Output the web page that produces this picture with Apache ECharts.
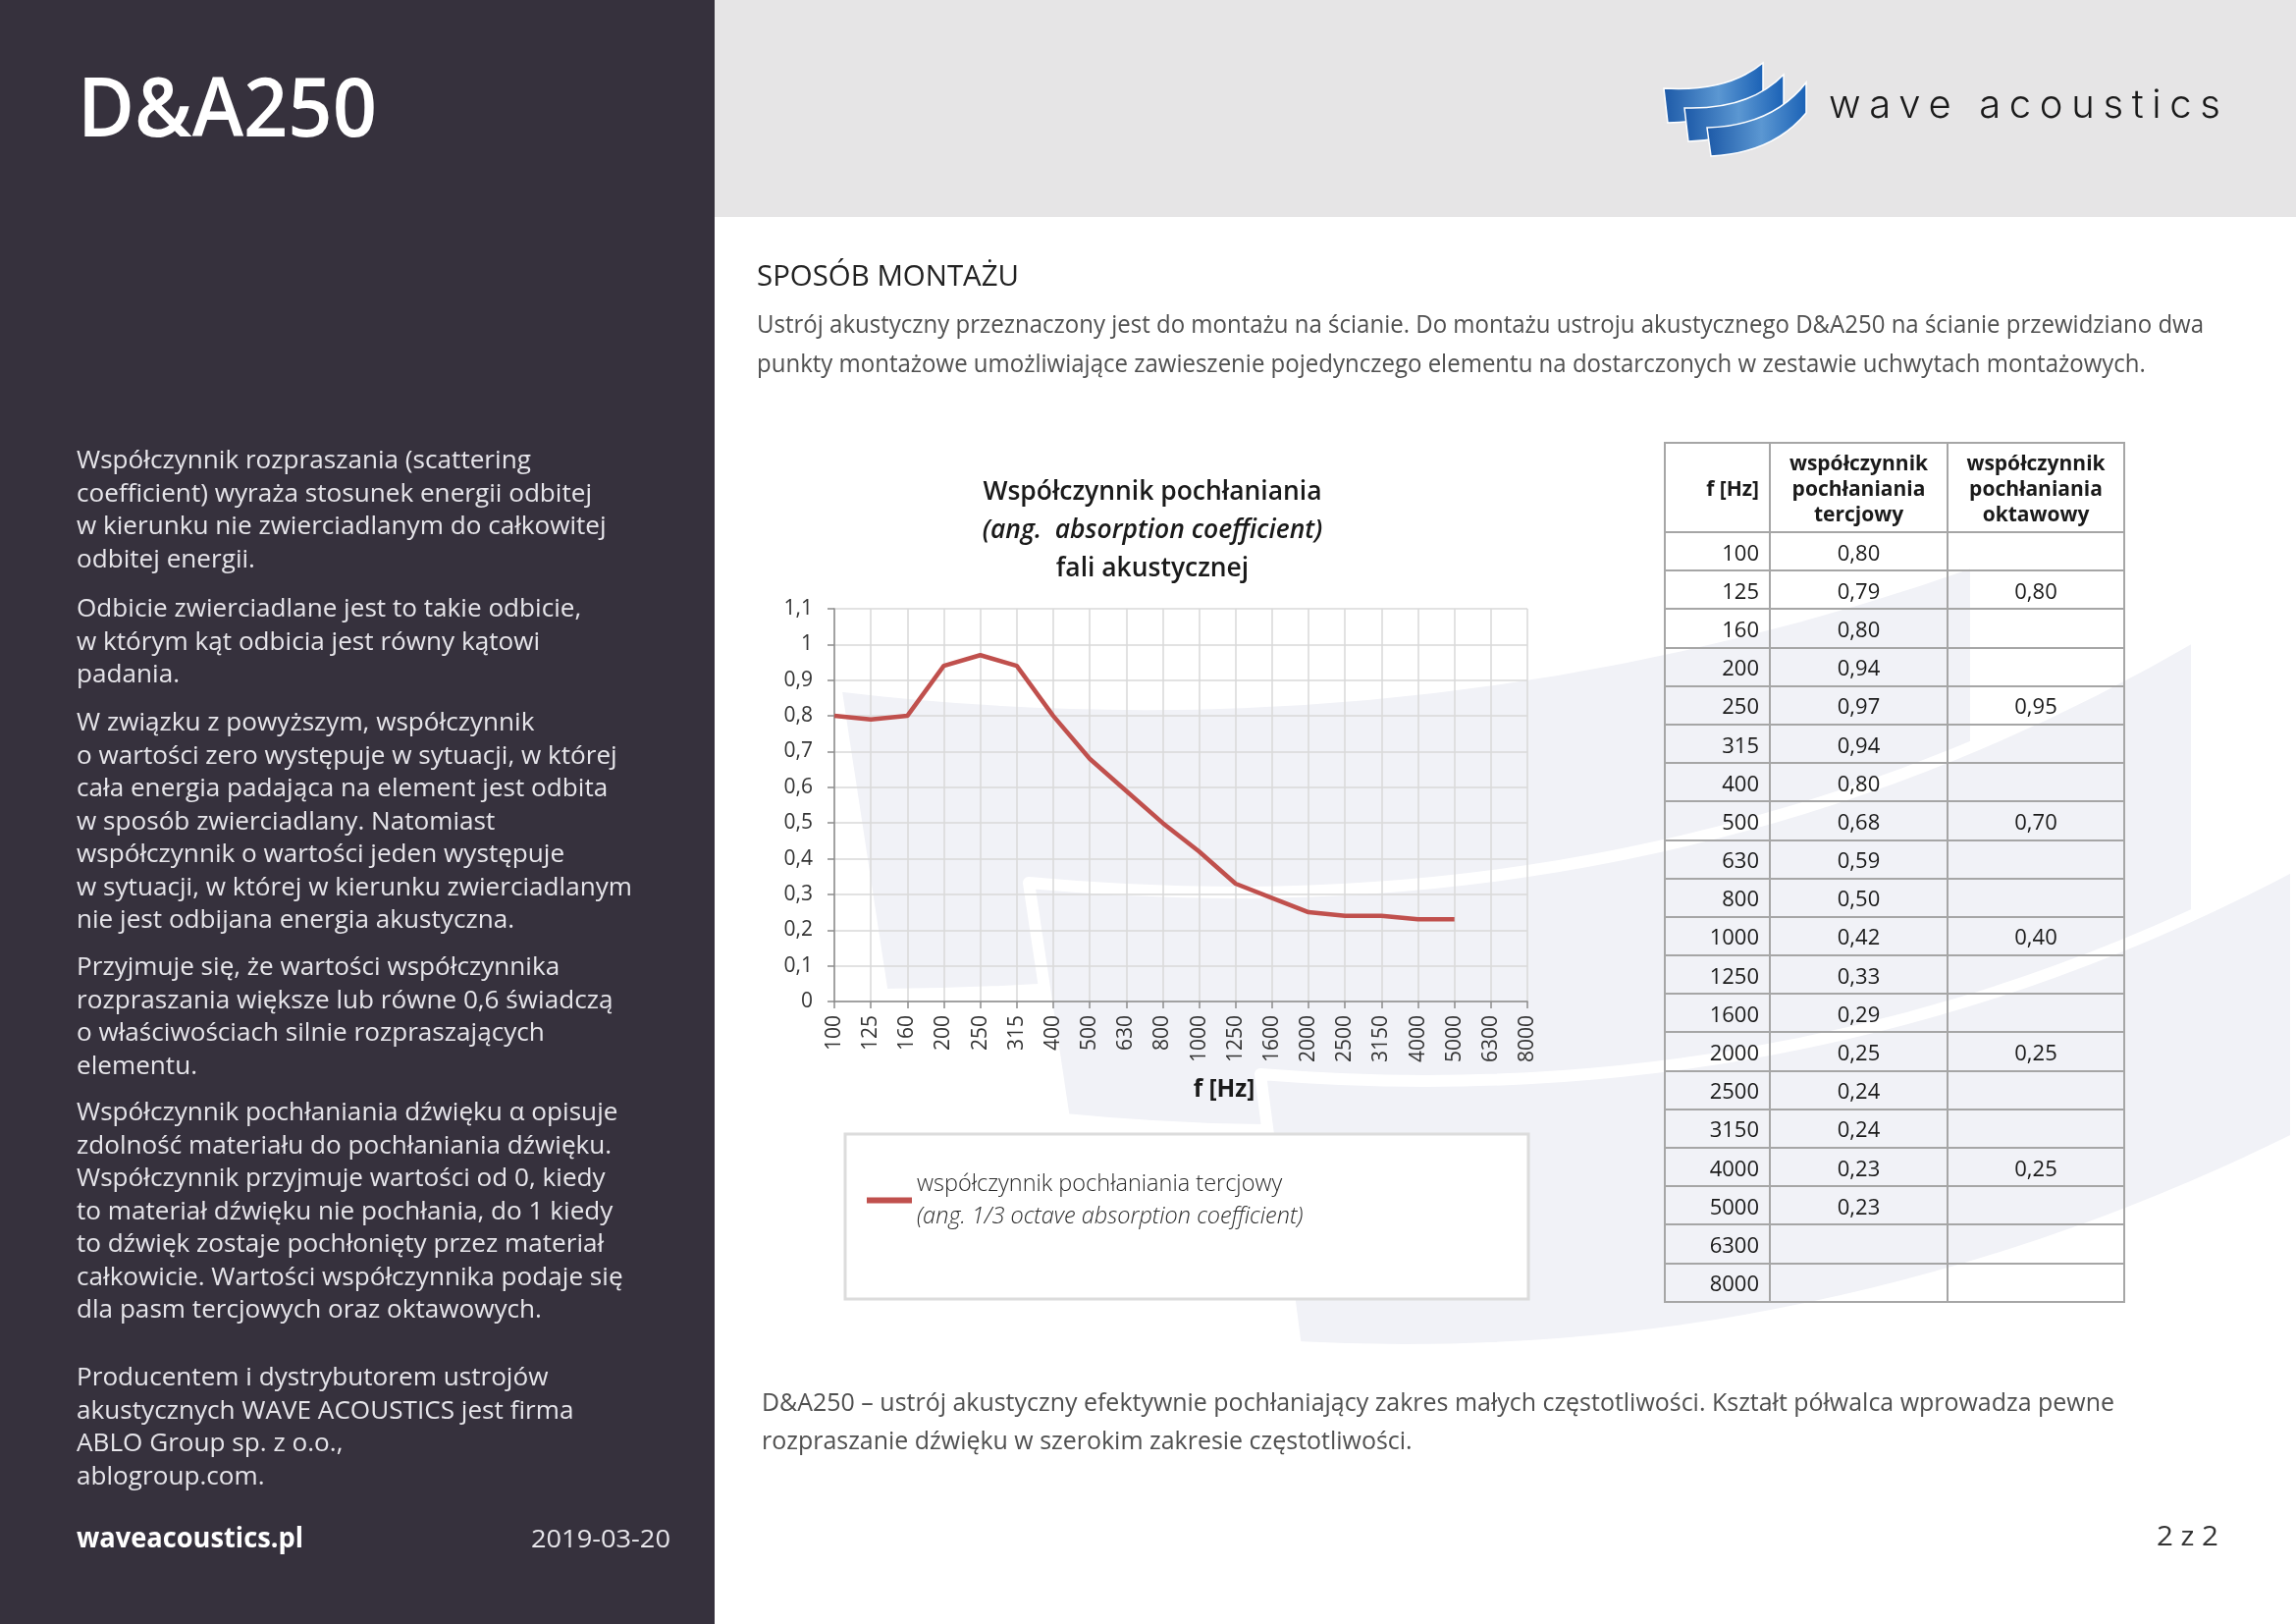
<!DOCTYPE html>
<html>
<head>
<meta charset="utf-8">
<script src="https://cdn.jsdelivr.net/npm/echarts@6/dist/echarts.min.js"></script>
<style>
html,body{margin:0;padding:0;}
body{width:2339px;height:1654px;position:relative;overflow:hidden;background:#fff;font-family:'Open Sans',sans-serif;}
#leftPanel{position:absolute;left:0;top:0;width:728px;height:1654px;background:#36313d;}
#header{position:absolute;left:728px;top:0;width:1611px;height:221px;background:#e6e5e6;}
#wm{position:absolute;left:0;top:0;z-index:0;}
#chart{position:absolute;left:0;top:0;width:2339px;height:1654px;z-index:1;}
.t{position:absolute;white-space:nowrap;transform-origin:0 50%;z-index:2;}
.ln{white-space:nowrap;}
#tbl{position:absolute;left:1695px;top:450px;z-index:2;border-collapse:collapse;table-layout:fixed;width:468px;}
#tbl td{border:2px solid #a6a6a6;padding:0;font-size:22px;color:#1a1a1a;font-weight:500;}
#tbl tr.h td{height:89px;font-size:21px;font-weight:700;line-height:26px;text-align:center;}
#tbl tr.r td{height:37.2px;text-align:center;}
#tbl tr td.f{text-align:right;padding-right:10px;}
</style>
</head>
<body>
<div id="leftPanel"></div>
<div id="header"></div>

<svg id="wm" width="2339" height="1654" viewBox="0 0 2339 1654">
  <defs>
    <linearGradient id="lg" x1="0" y1="0" x2="1" y2="0">
      <stop offset="0" stop-color="#1d5aa8"/>
      <stop offset="0.55" stop-color="#5b97d2"/>
      <stop offset="1" stop-color="#1b62b6"/>
    </linearGradient>
  </defs>
  <g fill="#f1f2f7" stroke="#ffffff" stroke-width="12" stroke-linejoin="round">
    <path d="M851,698 Q1450,770 2013,571 L2013,813 Q1450,1010 899,1013 Z"/>
    <path d="M1048,899 Q1700,960 2238,646 L2238,939 Q1700,1200 1084,1140 Z"/>
    <path d="M1284,1094 Q1850,1140 2339,880 L2339,1160 Q1850,1400 1320,1372 Z"/>
  </g>
  <g fill="url(#lg)" stroke="#ffffff" stroke-width="1.5">
    <path d="M1695,90 Q1760,94 1796,64 L1796,95 Q1760,124 1699,125 Z"/>
    <path d="M1716,110 Q1782,112 1817,76 L1817,108 Q1782,142 1720,144 Z"/>
    <path d="M1739,130 Q1806,128 1840,84 L1840,115 Q1806,156 1743,159 Z"/>
  </g>
</svg>

<div id="chart"></div>

<div class="t" id="title" style="left:79px;top:65px;font-size:84px;line-height:84px;font-weight:600;color:#ffffff;">D&amp;A250</div>
<div class="t" id="logoText" style="left:1863px;top:86px;font-size:40px;line-height:40px;font-family:Inter,'DejaVu Sans',sans-serif;font-weight:300;color:#1a1a1a;">wave acoustics</div>

<div class="t" id="sec" style="left:771px;top:260px;font-size:29px;line-height:40px;color:#222;">SPOSÓB MONTAŻU</div>
<div class="t" id="p1" style="left:771px;top:309px;font-size:25px;line-height:40px;color:#505050;">
  <div class="ln" id="p1ref">Ustrój akustyczny przeznaczony jest do montażu na ścianie. Do montażu ustroju akustycznego D&amp;A250 na ścianie przewidziano dwa</div>
  <div class="ln">punkty montażowe umożliwiające zawieszenie pojedynczego elementu na dostarczonych w zestawie uchwytach montażowych.</div>
</div>
<div class="t" id="p2" style="left:776px;top:1408px;font-size:25px;line-height:39px;color:#505050;">
  <div class="ln" id="p2ref">D&amp;A250 – ustrój akustyczny efektywnie pochłaniający zakres małych częstotliwości. Kształt półwalca wprowadza pewne</div>
  <div class="ln">rozpraszanie dźwięku w szerokim zakresie częstotliwości.</div>
</div>

<div id="leftText"></div>

<div class="t" id="site" style="left:78px;top:1545px;font-size:28px;line-height:40px;font-weight:700;color:#ffffff;">waveacoustics.pl</div>
<div class="t" id="date" style="left:541px;top:1546px;font-size:26px;line-height:40px;color:#e8e7ec;">2019-03-20</div>
<div class="t" id="page" style="left:2197px;top:1543px;font-size:28px;line-height:40px;color:#333;">2 z 2</div>

<table id="tbl"></table>

<script>
// ---------- data ----------
const freqs = ['100','125','160','200','250','315','400','500','630','800','1000','1250','1600','2000','2500','3150','4000','5000','6300','8000'];
const tercjowy = [0.80,0.79,0.80,0.94,0.97,0.94,0.80,0.68,0.59,0.50,0.42,0.33,0.29,0.25,0.24,0.24,0.23,0.23,null,null];
const oktawowy = [null,0.80,null,null,0.95,null,null,0.70,null,null,0.40,null,null,0.25,null,null,0.25,null,null,null];
const yMin = 0, yMax = 1.1, yStep = 0.1;
const seriesName = 'współczynnik pochłaniania tercjowy';
const seriesNameEn = '(ang. 1/3 octave absorption coefficient)';
const chartTitle = ['Współczynnik pochłaniania', '(ang.  absorption coefficient)', 'fali akustycznej'];
const xName = 'f [Hz]';
const tableHead = ['f [Hz]', 'współczynnik<br>pochłaniania<br>tercjowy', 'współczynnik<br>pochłaniania<br>oktawowy'];

const leftParas = [
  ['Współczynnik rozpraszania (scattering','coefficient) wyraża stosunek energii odbitej','w kierunku nie zwierciadlanym do całkowitej','odbitej energii.'],
  ['Odbicie zwierciadlane jest to takie odbicie,','w którym kąt odbicia jest równy kątowi','padania.'],
  ['W związku z powyższym, współczynnik','o wartości zero występuje w sytuacji, w której','cała energia padająca na element jest odbita','w sposób zwierciadlany. Natomiast','współczynnik o wartości jeden występuje','w sytuacji, w której w kierunku zwierciadlanym','nie jest odbijana energia akustyczna.'],
  ['Przyjmuje się, że wartości współczynnika','rozpraszania większe lub równe 0,6 świadczą','o właściwościach silnie rozpraszających','elementu.'],
  ['Współczynnik pochłaniania dźwięku α opisuje','zdolność materiału do pochłaniania dźwięku.','Współczynnik przyjmuje wartości od 0, kiedy','to materiał dźwięku nie pochłania, do 1 kiedy','to dźwięk zostaje pochłonięty przez materiał','całkowicie. Wartości współczynnika podaje się','dla pasm tercjowych oraz oktawowych.'],
  ['Producentem i dystrybutorem ustrojów','akustycznych WAVE ACOUSTICS jest firma','ABLO Group sp. z o.o.,','ablogroup.com.']
];
const leftTops = [451, 602, 718, 967, 1115, 1385];

const fmt2 = v => (v == null ? '' : v.toFixed(2).replace('.', ','));

// ---------- left panel text ----------
const lt = document.getElementById('leftText');
const paraEls = [];
leftParas.forEach((lines, i) => {
  const d = document.createElement('div');
  d.className = 't';
  d.style.cssText = 'left:78px;top:' + leftTops[i] + 'px;font-size:26px;line-height:33.5px;color:#e6e5ea;';
  d.innerHTML = lines.map(l => '<div class="ln"><span>' + l + '</span></div>').join('');
  lt.appendChild(d);
  paraEls.push(d);
});

// ---------- table ----------
const tbl = document.getElementById('tbl');
let html = '<colgroup><col style="width:107px"><col style="width:181px"><col style="width:180px"></colgroup>';
html += '<tr class="h">' + tableHead.map((h, i) => '<td' + (i === 0 ? ' class="f"' : '') + '>' + h + '</td>').join('') + '</tr>';
freqs.forEach((f, i) => {
  html += '<tr class="r"><td class="f">' + f + '</td><td>' + fmt2(tercjowy[i]) + '</td><td>' + fmt2(oktawowy[i]) + '</td></tr>';
});
tbl.innerHTML = html;

// ---------- fit text widths ----------
function natW(el) {
  const r = document.createRange(); r.selectNodeContents(el);
  return r.getBoundingClientRect().width;
}
function scaleTo(el, refEl, target) {
  const w = natW(refEl);
  if (w > 0) el.style.transform = 'scaleX(' + (target / w) + ')';
}
scaleTo(document.getElementById('title'), document.getElementById('title'), 305);
scaleTo(document.getElementById('sec'), document.getElementById('sec'), 267);
scaleTo(document.getElementById('p1'), document.getElementById('p1ref'), 1474);
scaleTo(document.getElementById('p2'), document.getElementById('p2ref'), 1378);
scaleTo(document.getElementById('site'), document.getElementById('site'), 231);
scaleTo(document.getElementById('date'), document.getElementById('date'), 142);
scaleTo(document.getElementById('page'), document.getElementById('page'), 63);
(function(){
  const ref = paraEls[2].children[5].firstChild;
  const k = 566 / ref.getBoundingClientRect().width;
  paraEls.forEach(p => p.style.transform = 'scaleX(' + k + ')');
})();
(function(){
  const el = document.getElementById('logoText');
  const w = natW(el);
  const n = el.textContent.length - 1;
  el.style.letterSpacing = ((399 - w) / n) + 'px';
})();

// ---------- chart ----------
const cv = document.createElement('canvas').getContext('2d');
cv.font = '600 27px "Open Sans"';
const titleScale = 345 / cv.measureText(chartTitle[0]).width;

const chart = echarts.init(document.getElementById('chart'), null, {renderer: 'canvas'});
const fontFam = '"Open Sans", sans-serif';
chart.setOption({
  animation: false,
  backgroundColor: 'transparent',
  grid: {left: 850, top: 620, width: 706, height: 400, containLabel: false},
  xAxis: {
    type: 'category',
    data: freqs,
    boundaryGap: false,
    axisLine: {show: true, lineStyle: {color: '#8c8c8c', width: 1.5}},
    axisTick: {show: true, interval: 0, length: 7, lineStyle: {color: '#8c8c8c', width: 1.5}},
    axisLabel: {interval: 0, rotate: 90, margin: 14, fontSize: 21, color: '#333333', fontFamily: fontFam},
    splitLine: {show: true, interval: 0, lineStyle: {color: '#d9d9d9', width: 1.5}}
  },
  yAxis: {
    type: 'value',
    min: yMin, max: yMax, interval: yStep,
    axisLine: {show: true, lineStyle: {color: '#8c8c8c', width: 1.5}},
    axisTick: {show: true, length: 7, lineStyle: {color: '#8c8c8c', width: 1.5}},
    axisLabel: {margin: 22, fontSize: 21, color: '#333333', fontFamily: fontFam,
      formatter: v => String(Math.round(v * 10) / 10).replace('.', ',')},
    splitLine: {show: true, lineStyle: {color: '#d9d9d9', width: 1.5}}
  },
  legend: {
    left: 878, top: 1189, itemWidth: 46, itemHeight: 6, icon: 'rect',
    data: [seriesName],
    formatter: () => '{a|' + seriesName + '}\n{b|' + seriesNameEn + '}',
    textStyle: {
      rich: {
        a: {fontSize: 23.5, fontWeight: 300, fontFamily: fontFam, color: '#2a2a2a', lineHeight: 33},
        b: {fontSize: 23.5, fontWeight: 300, fontStyle: 'italic', fontFamily: fontFam, color: '#2a2a2a', lineHeight: 33}
      }
    }
  },
  graphic: [
    {type: 'rect', z: -10, shape: {x: 861, y: 1155, width: 696, height: 168}, style: {fill: '#ffffff', stroke: '#dcdcdc', lineWidth: 3}},
    {type: 'text', x: 1174, y: 501, scaleX: titleScale, style: {text: chartTitle[0], font: '600 27px "Open Sans"', fill: '#1a1a1a', align: 'center', verticalAlign: 'middle'}},
    {type: 'text', x: 1174, y: 540, scaleX: titleScale, style: {text: chartTitle[1], font: 'italic 600 27px "Open Sans"', fill: '#1a1a1a', align: 'center', verticalAlign: 'middle'}},
    {type: 'text', x: 1174, y: 579, scaleX: titleScale, style: {text: chartTitle[2], font: '600 27px "Open Sans"', fill: '#1a1a1a', align: 'center', verticalAlign: 'middle'}},
    {type: 'text', x: 1247, y: 1110, scaleX: titleScale, style: {text: xName, font: '700 25px "Open Sans"', fill: '#1a1a1a', align: 'center', verticalAlign: 'middle'}}
  ],
  series: [{
    name: seriesName,
    type: 'line',
    data: tercjowy,
    symbol: 'none',
    connectNulls: false,
    lineStyle: {color: '#c0504d', width: 4.5},
    itemStyle: {color: '#c0504d'}
  }]
});
</script>
</body>
</html>
